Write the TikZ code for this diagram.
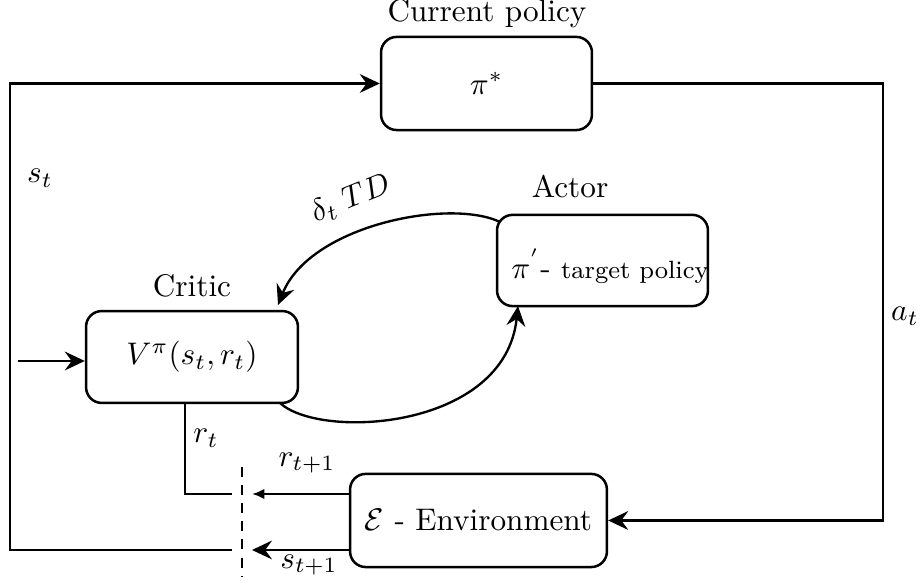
\documentclass[tikz,border=0pt]{standalone}
\usetikzlibrary{arrows.meta}
\begin{document}
\begin{tikzpicture}[x=0.32pt,y=-0.32pt,
  blockbox/.style={draw,line width=0.8pt,rounded corners=5pt,inner sep=0pt},
  link/.style={line width=0.75pt},
  tip/.style={-{Stealth[length=6.4pt,width=6pt,inset=2.2pt]}},
  smalltip/.style={-{Latex[length=4pt,width=3.4pt]}}]
\useasboundingbox (0,0) rectangle (921,585);

% blocks
\node[blockbox,minimum width=67.5pt,minimum height=29.8pt] (cp) at (486.5,83.5) {$\pi^*$};
\node[blockbox,minimum width=67.5pt,minimum height=29.2pt] (actor) at (602.5,260.5) {};
\node (actortext) at (610,266) {$\pi^{'}$- {\footnotesize target policy}};
\node[blockbox,minimum width=67.8pt,minimum height=29.4pt] (critic) at (192,357) {$V^{\pi}(s_t,r_t)$};
\node[blockbox,minimum width=82.2pt,minimum height=29.8pt] (env) at (478.5,520.5) {$\mathcal{E}$ - Environment};

% block titles
\node (tcp) at (487,14) {Current policy};
\node (tactor) at (570,187) {Actor};
\node (tcritic) at (192,286) {Critic};

% helper points
\coordinate (ar) at (883,83.5);
\coordinate (ls) at (10,550);
\coordinate (lt) at (10,83.5);
\coordinate (send) at (232,550);
\coordinate (cin) at (18,361);
\coordinate (rtop) at (185,403);
\coordinate (rbot) at (185,494);
\coordinate (rend) at (232,494);
\coordinate (dtop) at (242,467);
\coordinate (dbot) at (242,577);
\coordinate (rtip) at (252,494);
\coordinate (stip) at (252,550);

% action path to the environment
\draw[link,tip] (cp.east) -- (ar) |- (env.east);
% state feedback to the current policy
\draw[link,tip] (send) -- (ls) -- (lt) -- (cp.west);
% input to the critic
\draw[link,tip] (cin) -- (cin -| critic.west);
% TD error from actor to critic
\draw[link,tip] (500,222) .. controls (450,198) and (310,225) .. (278,305);
% critic to actor
\draw[link,tip] (280,403) .. controls (320,440) and (505,430) .. (518,306);
% reward line
\draw[link] (rtop) -- (rbot) -- (rend);
% sampling boundary
\draw[link,dash pattern=on 3.2pt off 2.6pt] (dtop) -- (dbot);
% outputs of the environment
\draw[link,smalltip] (env.west |- rtip) -- (rtip);
\draw[link,tip] (env.west |- stip) -- (stip);

% signal labels
\node (lst) at (40,178) {$s_t$};
\node (lat) at (905,316) {$a_t$};
\node (lrt) at (206,438) {$r_t$};
\node (lrt1) at (307,463) {$r_{t+1}$};
\node (lst1) at (309,565) {$s_{t+1}$};
\node[rotate=22,inner sep=0pt] (ltd) at (351,199) {$\delta_t\;TD$};
\end{tikzpicture}
\end{document}
